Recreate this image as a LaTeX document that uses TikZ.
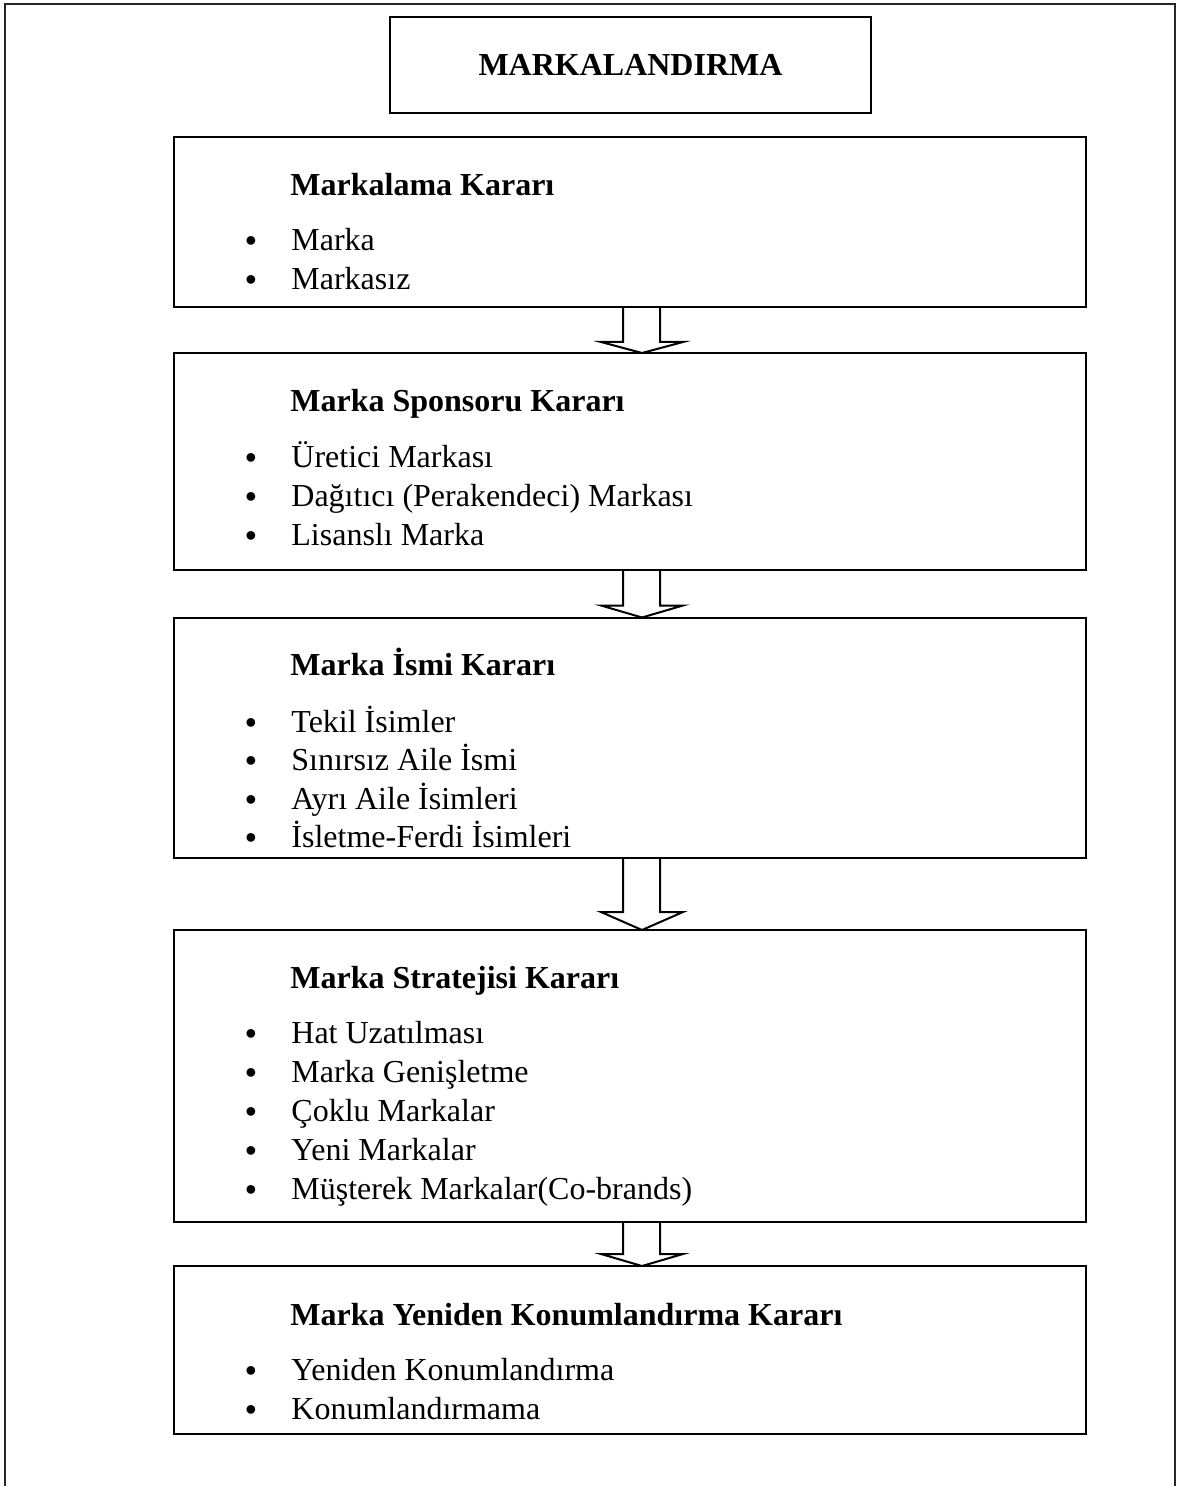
\documentclass[tikz,border=0pt]{standalone}
\usepackage{fontspec}
\setmainfont{Liberation Serif}
\newfontfamily\bulfont{Liberation Sans}
\usetikzlibrary{calc}
\begin{document}
\begin{tikzpicture}[x=0.5pt,y=-0.5pt,
  box/.style={draw,line width=1pt,minimum width=456pt,inner sep=0pt,outer sep=0pt},
  hd/.style={anchor=base west,inner sep=0pt,font=\fontsize{16}{19.5}\selectfont\bfseries},
  itm/.style={anchor=base west,inner sep=0pt,font=\fontsize{16}{19.5}\selectfont},
  bul/.style={anchor=base,inner sep=0pt,font=\bulfont\fontsize{16}{19.5}\selectfont},
  arr/.style={draw,line width=1pt,line join=miter}]
\newcommand\bitem[3]{\node[bul] (#1b) at (251,#2) {\raisebox{-0.5pt}{•}}; \node[itm] (#1) at (291,#2) {#3};}
\useasboundingbox (0,0) rectangle (1178,1486);
\draw[line width=1.2pt,draw=black!85] (5,1500) -- (5,4) -- (1175,4) -- (1175,1500);
% title
\node[box,minimum width=240.5pt,minimum height=48pt,font=\fontsize{16}{19.5}\selectfont\bfseries] (title) at (630.5,65) {MARKALANDIRMA};
% boxes
\node[box,minimum height=85pt] (b1) at (630,222) {};
\node[box,minimum height=108.5pt] (b2) at (630,461.5) {};
\node[box,minimum height=120pt] (b3) at (630,737.5) {};
\node[box,minimum height=146pt] (b4) at (630,1076) {};
\node[box,minimum height=84pt] (b5) at (630,1350) {};
% texts box 1
\node[hd] (h1) at (290,196) {Markalama Kararı};
\bitem{i11}{251}{Marka}
\bitem{i12}{290}{Markasız}
% box 2
\node[hd] (h2) at (290,412) {Marka Sponsoru Kararı};
\bitem{i21}{467}{Üretici Markası}
\bitem{i22}{506}{Dağıtıcı (Perakendeci) Markası}
\bitem{i23}{545}{Lisanslı Marka}
% box 3
\node[hd] (h3) at (290,675) {Marka İsmi Kararı};
\bitem{i31}{732}{Tekil İsimler}
\bitem{i32}{770.5}{Sınırsız Aile İsmi}
\bitem{i33}{809}{Ayrı Aile İsimleri}
\begin{scope}
\clip (200,800) rectangle (800,849);
\bitem{i34}{847.5}{İsletme-Ferdi İsimleri}
\end{scope}
% box 4
\node[hd] (h4) at (290,988) {Marka Stratejisi Kararı};
\bitem{i41}{1043}{Hat Uzatılması}
\bitem{i42}{1082}{Marka Genişletme}
\bitem{i43}{1121}{Çoklu Markalar}
\bitem{i44}{1160}{Yeni Markalar}
\bitem{i45}{1199}{Müşterek Markalar(Co-brands)}
% box 5
\node[hd] (h5) at (290,1325) {Marka Yeniden Konumlandırma Kararı};
\bitem{i51}{1380}{Yeniden Konumlandırma}
\bitem{i52}{1419}{Konumlandırmama}
% arrows
\draw[arr] ($(b1.south)+(-7,0)$) -- ($(b2.north)+(-7,-11)$) -- ($(b2.north)+(-29,-11)$) -- ($(b2.north)+(12,0)$) -- ($(b2.north)+(53,-11)$) -- ($(b2.north)+(30,-11)$) -- ($(b1.south)+(30,0)$);
\draw[arr] ($(b2.south)+(-7,0)$) -- ($(b3.north)+(-7,-12)$) -- ($(b3.north)+(-29,-12)$) -- ($(b3.north)+(12,0)$) -- ($(b3.north)+(53,-12)$) -- ($(b3.north)+(30,-12)$) -- ($(b2.south)+(30,0)$);
\draw[arr] ($(b3.south)+(-7,0)$) -- ($(b4.north)+(-7,-18)$) -- ($(b4.north)+(-29,-18)$) -- ($(b4.north)+(12,0)$) -- ($(b4.north)+(53,-18)$) -- ($(b4.north)+(30,-18)$) -- ($(b3.south)+(30,0)$);
\draw[arr] ($(b4.south)+(-7,0)$) -- ($(b5.north)+(-7,-12)$) -- ($(b5.north)+(-29,-12)$) -- ($(b5.north)+(12,0)$) -- ($(b5.north)+(53,-12)$) -- ($(b5.north)+(30,-12)$) -- ($(b4.south)+(30,0)$);
\end{tikzpicture}
\end{document}
